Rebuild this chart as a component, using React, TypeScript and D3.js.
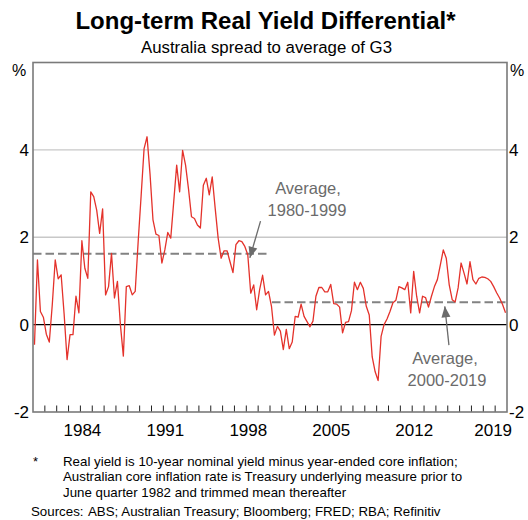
import React from "react";
import * as d3 from "d3";

// Quarterly data, 1980 Q1 – 2019 Q4 (per cent)
const firstYear = 1980;
const spread = [
  -0.46, 1.48, 0.30, 0.17,
  -0.22, -0.40, 0.45, 1.48,
  1.05, 1.14, 0.25, -0.80,
  -0.23, -0.23, 0.65, 0.27,
  1.92, 1.29, 1.06, 3.04,
  2.93, 2.62, 2.09, 2.65,
  0.68, 0.87, 1.63, 0.61,
  0.99, 0.00, -0.72, 0.87,
  0.89, 0.68, 0.76, 1.90,
  2.95, 4.03, 4.30, 3.45,
  2.40, 2.07, 2.04, 1.41,
  1.71, 2.11, 1.98, 2.81,
  3.65, 3.04, 3.99, 3.65,
  3.10, 2.47, 2.43, 2.28,
  2.21, 3.19, 3.35, 2.97,
  3.38, 2.66, 1.98, 1.52,
  1.69, 1.69, 1.44, 1.19,
  1.83, 1.92, 1.90, 1.79,
  1.60, 0.72, 0.91, 0.34,
  0.80, 1.13, 0.68, 0.76,
  0.42, -0.24, -0.04, -0.15,
  -0.57, -0.11, -0.55, -0.40,
  0.19, 0.17, 0.47, 0.19,
  0.07, -0.05, 0.08, 0.65,
  0.85, 0.85, 0.75, 0.75,
  0.92, 0.48, 0.47, 0.40,
  -0.19, 0.05, 0.07, 0.32,
  0.97, 0.80, 0.97, 0.83,
  0.42, 0.22, -0.74, -1.08,
  -1.28, -0.27, 0.00, 0.13,
  0.30, 0.50, 0.56, 0.87,
  0.84, 0.80, 0.97, 0.27,
  1.22, 0.65, 0.27, 0.65,
  0.62, 0.40, 0.65, 0.87,
  1.03, 1.37, 1.71, 1.52,
  0.91, 0.57, 0.52, 0.84,
  1.41, 1.18, 0.93, 1.44,
  1.03, 0.93, 1.06, 1.09,
  1.08, 1.05, 0.99, 0.87,
  0.73, 0.61, 0.46, 0.27,
];

const averages = [
  { from: 1980, to: 2000, value: 1.62, label: ["Average,", "1980-1999"] },
  { from: 2000, to: 2020, value: 0.51, label: ["Average,", "2000-2019"] },
];

const yTicks = [-2, 0, 2, 4];
const xLabelYears = [1984, 1991, 1998, 2005, 2012, 2019];
const title = "Long-term Real Yield Differential*";
const subtitle = "Australia spread to average of G3";
const footnoteLines = [
  "Real yield is 10-year nominal yield minus year-ended core inflation;",
  "Australian core inflation rate is Treasury underlying measure prior to",
  "June quarter 1982 and trimmed mean thereafter",
];
const sourcesText = "ABS; Australian Treasury; Bloomberg; FRED; RBA; Refinitiv";

const W = 528;
const H = 520;
const left = 33;
const right = 507;
const top = 62.5;
const bottom = 412;

const FONT = "Arial, 'Liberation Sans', Helvetica, sans-serif";
const RED = "#e4322b";
const GREY_TEXT = "#6b6b6b";

export default function App() {
  const x = d3.scaleLinear().domain([1980, 2020]).range([left, right]);
  const y = d3.scaleLinear().domain([-2, 6]).range([bottom, top]);

  const points = spread.map((v, i) => ({ t: firstYear + 0.125 + 0.25 * i, v }));
  const line = d3
    .line<{ t: number; v: number }>()
    .x((d) => x(d.t))
    .y((d) => y(d.v));

  const yearTicks = d3.range(1981, 2020);

  const arrowHead = (x1: number, y1: number, x2: number, y2: number) => {
    const ang = Math.atan2(y2 - y1, x2 - x1);
    const len = 11;
    const half = 4.5;
    const bx = x2 - len * Math.cos(ang);
    const by = y2 - len * Math.sin(ang);
    const px = -Math.sin(ang) * half;
    const py = Math.cos(ang) * half;
    return `M${x2},${y2}L${bx + px},${by + py}L${bx - px},${by - py}Z`;
  };

  const a1 = { x1: x(1999.2), y1: y(2.37), x2: x(1998.3), y2: y(1.62) + 4 };
  const a2 = { x1: x(2015.1), y1: y(-0.47), x2: x(2014.75), y2: y(0.51) + 4 };

  return (
    <svg width={W} height={H} style={{ display: "block", position: "absolute", left: 0, top: 0 }} fontFamily={FONT}>
      <rect x={0} y={0} width={W} height={H} fill="#fff" />
      {/* titles */}
      <text x={265.5} y={29} textAnchor="middle" fontSize={24} fontWeight="bold" fill="#000">
        {title}
      </text>
      <text x={266.5} y={53} textAnchor="middle" fontSize={16.8} fill="#000">
        {subtitle}
      </text>

      {/* gridlines */}
      {yTicks
        .filter((t) => t !== 0 && t !== -2)
        .map((t) => (
          <line key={t} x1={left} x2={right} y1={y(t)} y2={y(t)} stroke="#c8c8c8" strokeWidth={1.3} />
        ))}

      {/* average dashed lines */}
      {averages.map((a, i) => (
        <line
          key={i}
          x1={x(a.from) + (i === 1 ? 2 : 0)}
          x2={x(a.to)}
          y1={y(a.value)}
          y2={y(a.value)}
          stroke="#828282"
          strokeWidth={2}
          strokeDasharray="8.5,4"
        />
      ))}

      {/* zero line */}
      <line x1={left} x2={right} y1={y(0)} y2={y(0)} stroke="#000" strokeWidth={1.2} />

      {/* data line */}
      <path d={line(points) || ""} fill="none" stroke={RED} strokeWidth={1.3} strokeLinejoin="round" />

      {/* x ticks */}
      {yearTicks.map((yr) => (
        <line key={yr} x1={x(yr)} x2={x(yr)} y1={bottom} y2={bottom - 6.5} stroke="#222" strokeWidth={1} />
      ))}

      {/* frame */}
      <rect x={left} y={top} width={right - left} height={bottom - top} fill="none" stroke="#7a7a7a" strokeWidth={1.6} />

      {/* y labels */}
      <text x={19} y={76} textAnchor="middle" fontSize={16} fill="#000">%</text>
      <text x={517} y={76} textAnchor="middle" fontSize={16} fill="#000">%</text>
      {yTicks.map((t) => (
        <g key={t}>
          <text x={29} y={y(t)} dy="0.35em" textAnchor="end" fontSize={17} fill="#000">
            {t}
          </text>
          <text x={509} y={y(t)} dy="0.35em" textAnchor="start" fontSize={17} fill="#000">
            {t}
          </text>
        </g>
      ))}

      {/* x labels */}
      {xLabelYears.map((yr, i) => (
        <text
          key={yr}
          x={x(yr) + (i === xLabelYears.length - 1 ? -2 : 2)}
          y={436}
          textAnchor="middle"
          fontSize={17}
          fill="#000"
        >
          {yr}
        </text>
      ))}

      {/* annotations */}
      <text x={308} y={194} textAnchor="middle" fontSize={16.5} fill={GREY_TEXT}>
        {averages[0].label[0]}
      </text>
      <text x={307} y={216} textAnchor="middle" fontSize={16.5} fill={GREY_TEXT}>
        {averages[0].label[1]}
      </text>
      <line x1={a1.x1} y1={a1.y1} x2={a1.x2} y2={a1.y2} stroke="#6b6b6b" strokeWidth={1.3} />
      <path d={arrowHead(a1.x1, a1.y1, a1.x2, a1.y2)} fill="#6b6b6b" />

      <text x={445} y={364} textAnchor="middle" fontSize={16.5} fill={GREY_TEXT}>
        {averages[1].label[0]}
      </text>
      <text x={447} y={386} textAnchor="middle" fontSize={16.5} fill={GREY_TEXT}>
        {averages[1].label[1]}
      </text>
      <line x1={a2.x1} y1={a2.y1} x2={a2.x2} y2={a2.y2} stroke="#6b6b6b" strokeWidth={1.3} />
      <path d={arrowHead(a2.x1, a2.y1, a2.x2, a2.y2)} fill="#6b6b6b" />

      {/* footnotes */}
      <text x={33} y={466} fontSize={13} fill="#000">*</text>
      {footnoteLines.map((l, i) => (
        <text key={i} x={63} y={466 + i * 15.3} fontSize={13.3} fill="#000">
          {l}
        </text>
      ))}
      <text x={31} y={516} fontSize={13.3} fill="#000">Sources:</text>
      <text x={88} y={516} fontSize={13.3} fill="#000">{sourcesText}</text>
    </svg>
  );
}
